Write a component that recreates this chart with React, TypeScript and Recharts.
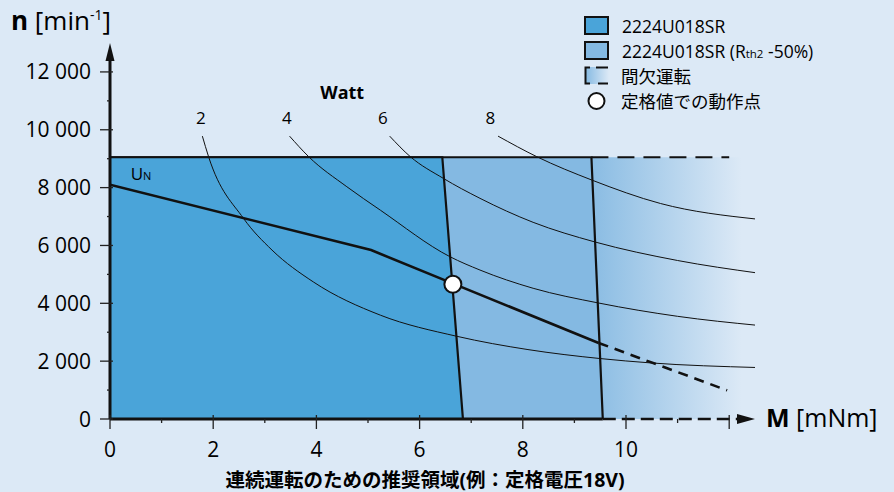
import React from 'react';
import {
  ComposedChart, Area, Line, Scatter, XAxis, YAxis, ReferenceLine, ReferenceDot,
} from 'recharts';

const FONT = '"Open Sans", "Noto Sans CJK JP", sans-serif';
const BG = '#dce9f6';
const DARK = '#4aa4d9';
const LIGHT = '#84b9e2';

// x = torque [mNm], y = speed [min-1]
const X_TICKS = [0, 1, 2, 3, 4, 5, 6, 7, 8, 9, 10, 11, 12];
const Y_TICKS = [0, 1000, 2000, 3000, 4000, 5000, 6000, 7000, 8000, 9000, 10000, 11000, 12000];

const CONT_REGION = [{ x: 0, y: 9050 }, { x: 6.44, y: 9050 }, { x: 6.84, y: 0 }];
const RTH_REGION = [{ x: 0, y: 9050 }, { x: 9.33, y: 9050 }, { x: 9.55, y: 0 }];
const INTERMITTENT = [{ x: 9.2, y: 9050 }, { x: 12.4, y: 9050 }];

const SPEED_LINE = [
  { x: 0, y: 8100 }, { x: 5.06, y: 5840 }, { x: 6.65, y: 4680 }, { x: 9.47, y: 2630 },
];
const SPEED_DASHED = [{ x: 9.47, y: 2630 }, { x: 11.96, y: 990 }];
const OPERATING_POINT = [{ x: 6.645, y: 4660 }];

const WATT_2 = [
  { x: 1.79, y: 9780 }, { x: 1.91, y: 9070 }, { x: 2.59, y: 6930 }, { x: 3.14, y: 5840 },
  { x: 3.94, y: 4740 }, { x: 5.24, y: 3590 }, { x: 6.72, y: 2860 }, { x: 8.1, y: 2400 },
  { x: 9.5, y: 2090 }, { x: 10.47, y: 1940 }, { x: 12.54, y: 1780 },
];
const WATT_4 = [
  { x: 3.48, y: 9780 }, { x: 3.85, y: 9070 }, { x: 4.59, y: 8030 }, { x: 5.24, y: 7220 },
  { x: 6.59, y: 5610 }, { x: 7.17, y: 5150 }, { x: 8.2, y: 4520 }, { x: 9.47, y: 4010 },
  { x: 11.0, y: 3550 }, { x: 12.54, y: 3240 },
];
const WATT_6 = [
  { x: 5.42, y: 9780 }, { x: 5.82, y: 9070 }, { x: 6.46, y: 8320 }, { x: 7.17, y: 7630 },
  { x: 8.2, y: 6800 }, { x: 9.4, y: 6120 }, { x: 11.0, y: 5480 }, { x: 12.54, y: 5050 },
];
const WATT_8 = [
  { x: 7.52, y: 9780 }, { x: 8.27, y: 9070 }, { x: 9.34, y: 8260 }, { x: 10.67, y: 7450 },
  { x: 12.54, y: 6910 },
];
const WATT_LABELS = [
  { x: 1.76, y: 10430, text: '2' },
  { x: 3.43, y: 10430, text: '4' },
  { x: 5.29, y: 10430, text: '6' },
  { x: 7.37, y: 10430, text: '8' },
];

const fmtSpeed = (v: number) => (v === 0 ? '0' : `${Math.floor(v / 1000)} ${String(v % 1000).padStart(3, '0')}`);

const XTick = (props: any) => {
  const { x, y, payload } = props;
  const v = payload.value;
  const major = v % 2 === 0;
  return (
    <g>
      <line x1={x} x2={x} y1={major ? y - 4 : y} y2={major ? y + 10 : y + 4} stroke="#222" strokeWidth={1.3} />
      {major && v <= 10 && (
        <text x={x} y={y + 38} textAnchor="middle" fontSize={21} fill="#000" fontFamily={FONT}>{v}</text>
      )}
    </g>
  );
};

const YTick = (props: any) => {
  const { x, y, payload } = props;
  const v = payload.value;
  const major = v % 2000 === 0;
  return (
    <g>
      <line x1={major ? x - 10 : x - 3} x2={major ? x + 3 : x} y1={y} y2={y} stroke="#222" strokeWidth={1.3} />
      {major && (
        <text x={x - 19} y={y + 7.5} textAnchor="end" fontSize={21} fill="#000" fontFamily={FONT}>{fmtSpeed(v)}</text>
      )}
    </g>
  );
};

const Legend = () => {
  const row: React.CSSProperties = { display: 'flex', alignItems: 'center', height: 25 };
  const box = (fill: string): React.CSSProperties => ({
    width: 21, height: 15, background: fill, border: '2px solid #111', marginRight: 13,
  });
  return (
    <div style={{ position: 'absolute', left: 584, top: 13, fontFamily: FONT, fontSize: 17.5, color: '#000' }}>
      <div style={row}><div style={box(DARK)} /><span>2224U018SR</span></div>
      <div style={row}><div style={box(LIGHT)} /><span>2224U018SR (R<span style={{ fontSize: 11.5 }}>th2</span> -50%)</span></div>
      <div style={row}>
        <svg width={25} height={19} style={{ marginRight: 12 }}>
          <defs>
            <linearGradient id="lg-int" x1="0" y1="0" x2="1" y2="0">
              <stop offset="0%" stopColor={LIGHT} />
              <stop offset="100%" stopColor={BG} />
            </linearGradient>
          </defs>
          <rect x={1} y={1} width={24} height={17} fill="url(#lg-int)" />
          <polyline points="6,1.5 1.5,1.5 1.5,17.5 6,17.5" fill="none" stroke="#111" strokeWidth={2} />
          <line x1={12} x2={24} y1={1.5} y2={1.5} stroke="#111" strokeWidth={2} />
          <line x1={14} x2={24} y1={17.5} y2={17.5} stroke="#111" strokeWidth={2} />
        </svg>
        <span>間欠運転</span>
      </div>
      <div style={row}>
        <svg width={25} height={20} style={{ marginRight: 12 }}>
          <circle cx={12.5} cy={10} r={8} fill="#fff" stroke="#111" strokeWidth={2} />
        </svg>
        <span>定格値での動作点</span>
      </div>
    </div>
  );
};

const textShape = (text: string, size: number, bold = false) => (p: any) => (
  <text x={p.cx} y={p.cy} textAnchor="middle" dominantBaseline="central" fontSize={size}
    fontWeight={bold ? 700 : 400} fill="#000" fontFamily={FONT}>{text}</text>
);

export default function App() {
  return (
    <div style={{ position: 'absolute', left: 0, top: 0, width: 894, height: 492, background: BG, overflow: 'hidden' }}>
      <ComposedChart width={894} height={492} margin={{ top: 43, right: 139, bottom: 0, left: 0 }}>
        <defs>
          <linearGradient id="intermittent" x1="0" y1="0" x2="1" y2="0">
            <stop offset="0%" stopColor="#86bae2" />
            <stop offset="95%" stopColor={BG} />
          </linearGradient>
        </defs>
        <XAxis type="number" dataKey="x" domain={[0, 12.5]} ticks={X_TICKS} interval={0}
          allowDataOverflow axisLine={false} tickLine={false} tickSize={0} tickMargin={0}
          height={73} tick={<XTick />} />
        <YAxis type="number" dataKey="y" domain={[0, 13000]} ticks={Y_TICKS} interval={0}
          allowDataOverflow axisLine={false} tickLine={false} tickSize={0} tickMargin={0}
          width={110} tick={<YTick />} />

        <Area data={INTERMITTENT} dataKey="y" type="linear" baseValue={0} fill="url(#intermittent)"
          fillOpacity={1} stroke="none" isAnimationActive={false} />
        <Area data={RTH_REGION} dataKey="y" type="linear" baseValue={0} fill={LIGHT} fillOpacity={1}
          stroke="#111" strokeWidth={2.2} isAnimationActive={false} />
        <Area data={CONT_REGION} dataKey="y" type="linear" baseValue={0} fill={DARK} fillOpacity={1}
          stroke="#111" strokeWidth={2.2} isAnimationActive={false} />

        {[WATT_2, WATT_4, WATT_6, WATT_8].map((d, i) => (
          <Line key={i} data={d} dataKey="y" type="monotone" stroke="#111" strokeWidth={1}
            dot={false} activeDot={false} isAnimationActive={false} />
        ))}

        <Line data={SPEED_LINE} dataKey="y" type="linear" stroke="#111" strokeWidth={2.6}
          dot={false} activeDot={false} isAnimationActive={false} />
        <Line data={SPEED_DASHED} dataKey="y" type="linear" stroke="#111" strokeWidth={2.6}
          strokeDasharray="10 7" dot={false} activeDot={false} isAnimationActive={false} />

        <ReferenceLine segment={[{ x: 9.33, y: 9050 }, { x: 12.0, y: 9050 }]} stroke="#111"
          strokeWidth={2.2} strokeDasharray="17 9" ifOverflow="visible" />
        <ReferenceLine segment={[{ x: 0, y: 0 }, { x: 9.55, y: 0 }]} stroke="#111" strokeWidth={3} ifOverflow="visible" />
        <ReferenceLine segment={[{ x: 9.55, y: 0 }, { x: 12.2, y: 0 }]} stroke="#111" strokeWidth={2.6}
          strokeDasharray="13 6" ifOverflow="visible" />
        <ReferenceLine segment={[{ x: 0, y: 0 }, { x: 0, y: 12500 }]} stroke="#111" strokeWidth={3} ifOverflow="visible" />
        <ReferenceDot x={12.5} y={0} ifOverflow="visible"
          shape={(p: any) => <polygon points={`${p.cx},${p.cy} ${p.cx - 18},${p.cy - 5} ${p.cx - 18},${p.cy + 5}`} fill="#111" />} />
        <ReferenceDot x={0} y={13000} ifOverflow="visible"
          shape={(p: any) => <polygon points={`${p.cx},${p.cy} ${p.cx - 4.5},${p.cy + 18} ${p.cx + 4.5},${p.cy + 18}`} fill="#111" />} />

        {WATT_LABELS.map((l) => (
          <ReferenceDot key={l.text} x={l.x} y={l.y} ifOverflow="visible" shape={textShape(l.text, 17)} />
        ))}
        <ReferenceDot x={4.5} y={11300} ifOverflow="visible" shape={textShape('Watt', 18, true)} />
        <ReferenceDot x={0.4} y={8250} ifOverflow="visible"
          shape={(p: any) => (
            <text x={p.cx} y={p.cy} fontSize={17} fill="#000" fontFamily={FONT}>
              U<tspan fontSize={11}>N</tspan>
            </text>
          )} />

        <Scatter data={OPERATING_POINT} dataKey="y" isAnimationActive={false}
          shape={(p: any) => <circle cx={p.cx} cy={p.cy} r={8.5} fill="#fff" stroke="#111" strokeWidth={2} />} />
      </ComposedChart>

      <div style={{ position: 'absolute', left: 11, top: 2, fontFamily: FONT, fontSize: 26, color: '#000', whiteSpace: 'nowrap' }}>
        <b>n</b> [min<sup style={{ fontSize: 14 }}>-1</sup>]
      </div>
      <div style={{ position: 'absolute', left: 766, top: 400, fontFamily: FONT, fontSize: 25, color: '#000', whiteSpace: 'nowrap' }}>
        <b>M</b> [mNm]
      </div>
      <div style={{ position: 'absolute', left: 0, width: 850, top: 464, textAlign: 'center', fontFamily: FONT, fontSize: 19.5, fontWeight: 700, color: '#000', whiteSpace: 'nowrap' }}>
        連続運転のための推奨領域(例：定格電圧18V)
      </div>
      <Legend />
    </div>
  );
}
